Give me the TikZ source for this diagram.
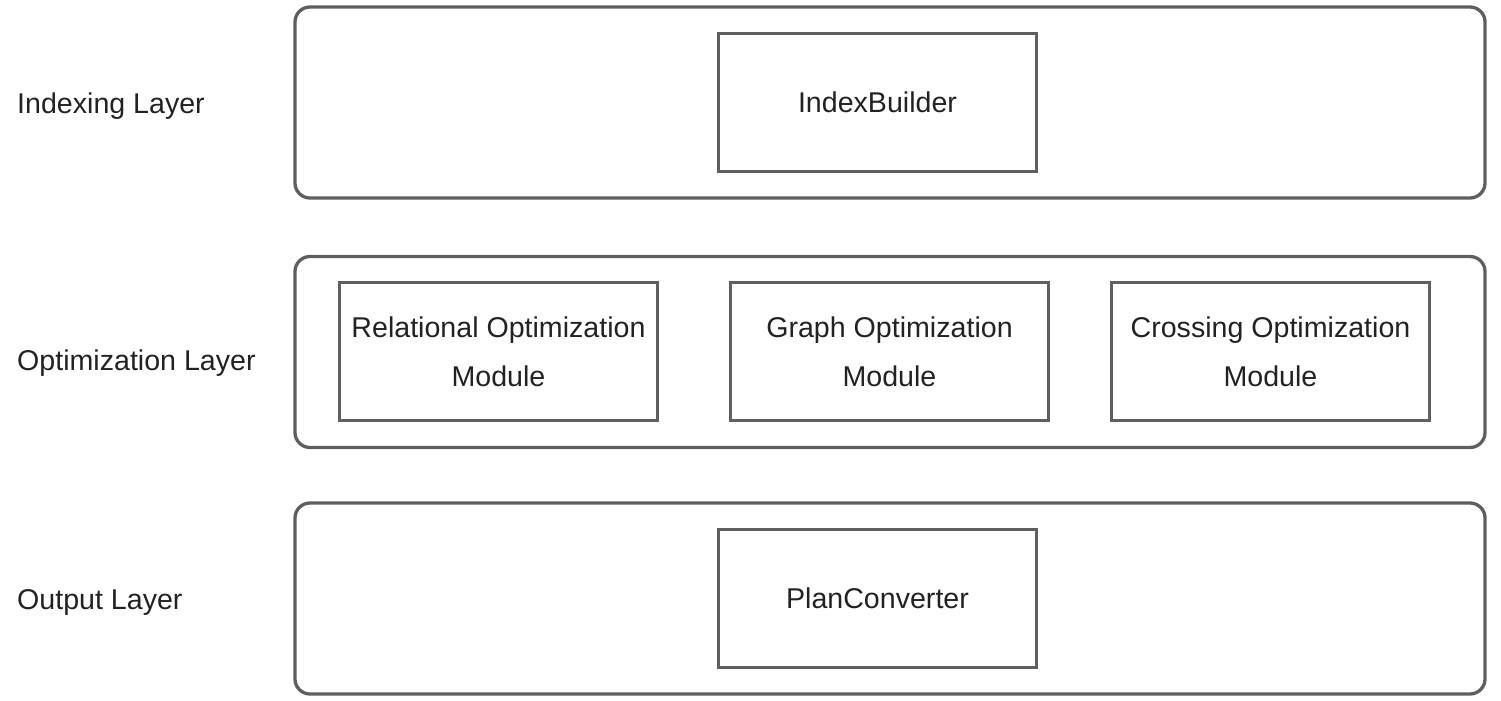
\documentclass[tikz,border=0pt]{standalone}
\usepackage{fontspec}
\setmainfont{Liberation Sans}
\definecolor{strokegray}{HTML}{5F5F5F}
\definecolor{textgray}{HTML}{222222}
\begin{document}
\begin{tikzpicture}[x=1pt,y=-1pt,
  every node/.style={text=textgray, font=\fontsize{28.6}{49}\selectfont},
  container/.style={draw=strokegray, line width=3.3pt, rounded corners=15pt,
    minimum width=1190pt, minimum height=191pt, inner sep=0pt},
  modbox/.style={draw=strokegray, line width=3.3pt, minimum width=318pt,
    minimum height=138pt, inner sep=0pt, align=center},
  layerlabel/.style={anchor=base west, inner sep=0pt}]
\useasboundingbox (0,0) rectangle (1501,701);
% containers
\node[container] (indexing) at (890,102.5) {};
\node[container] (optim) at (890,352) {};
\node[container] (output) at (890,598.5) {};
% layer labels
\node[layerlabel] (lblindex) at (17,113) {Indexing Layer};
\node[layerlabel] (lbloptim) at (17,370) {Optimization Layer};
\node[layerlabel] (lbloutput) at (17,609) {Output Layer};
% modules
\node[modbox] (builder) at (877.5,102.5) {IndexBuilder};
\node[modbox] (relational) at (498.5,351.5) {Relational Optimization\\Module};
\node[modbox] (graph) at (889.5,351.5) {Graph Optimization\\Module};
\node[modbox] (crossing) at (1270.5,351.5) {Crossing Optimization\\Module};
\node[modbox] (converter) at (877.5,598.5) {PlanConverter};
\end{tikzpicture}
\end{document}
